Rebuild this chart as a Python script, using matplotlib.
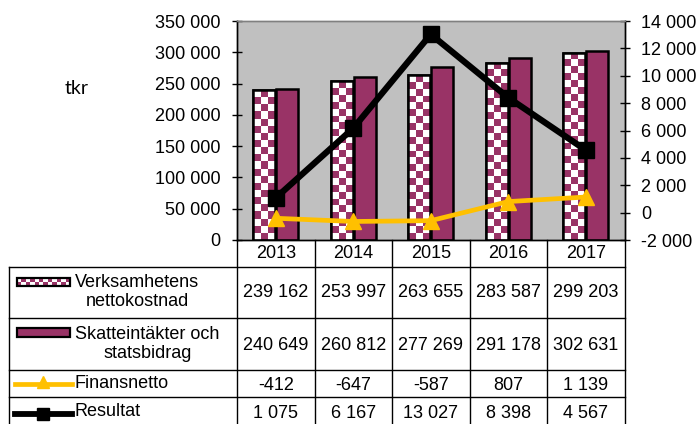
import numpy as np
import matplotlib
matplotlib.use("Agg")
import matplotlib.pyplot as plt
from matplotlib.patches import Rectangle
from matplotlib.lines import Line2D
from matplotlib.ticker import FuncFormatter, MultipleLocator

# ---------------- data ----------------
years = ["2013", "2014", "2015", "2016", "2017"]
nettokostnad = [239162, 253997, 263655, 283587, 299203]
skatteintakter = [240649, 260812, 277269, 291178, 302631]
finansnetto = [-412, -647, -587, 807, 1139]
resultat = [1075, 6167, 13027, 8398, 4567]
series_labels = ["Verksamhetens\nnettokostnad", "Skatteintäkter och\nstatsbidrag",
                 "Finansnetto", "Resultat"]

PURPLE = "#993366"
GOLD = "#FFC000"
GRAY = "#C0C0C0"
FONT = "Liberation Sans"
FS = 13

plt.rcParams['font.family'] = [FONT, 'DejaVu Sans']

W_PX, H_PX = 698, 424
fig = plt.figure(figsize=(W_PX / 100, H_PX / 100), dpi=100)

# plot area in pixels
pl, pr, pt, pb = 237, 624.5, 21, 240
ax = fig.add_axes([pl / W_PX, 1 - pb / H_PX, (pr - pl) / W_PX, (pb - pt) / H_PX])
ax.set_facecolor(GRAY)
ax2 = ax.twinx()

def sp(v, _=None):
    return f"{int(v):,}".replace(",", " ")

n = len(years)
x = np.arange(n)
bw = 0.285
off = 0.148

ax.set_xlim(-0.5, n - 0.5)
ax.set_ylim(0, 350000)
ax2.set_ylim(-2000, 14000)
ax.yaxis.set_major_locator(MultipleLocator(50000))
ax2.yaxis.set_major_locator(MultipleLocator(2000))
ax.yaxis.set_major_formatter(FuncFormatter(sp))
ax2.yaxis.set_major_formatter(FuncFormatter(sp))
ax.set_xticks([])
for a in (ax, ax2):
    a.tick_params(axis='y', direction='inout', length=7, width=1, labelsize=FS, pad=8.5)
    for s in a.spines.values():
        s.set_linewidth(1.0)
    a.spines['top'].set_color('#808080')

# bars
bars1 = ax.bar(x - off, nettokostnad, bw, facecolor='white', edgecolor='black',
               linewidth=1.8, zorder=2)
bars2 = ax.bar(x + off, skatteintakter, bw, facecolor=PURPLE, edgecolor='black',
               linewidth=1.8, zorder=2)

# checker pattern for bars1
cell_px = 7.0
ppx = (pr - pl) / n          # pixels per category
ppy = (pb - pt) / 350000.0   # pixels per unit
for b in bars1:
    x0, y0 = b.get_x(), b.get_y()
    w, h = b.get_width(), b.get_height()
    ncol = max(1, int(round(w * ppx / cell_px)))
    nrow = max(1, int(round(h * ppy / cell_px)))
    pat = (np.add.outer(np.arange(nrow), np.arange(ncol)) % 2).astype(float)
    img = np.ones((nrow, ncol, 3))
    pr_rgb = np.array(matplotlib.colors.to_rgb(PURPLE))
    img[pat == 1] = pr_rgb
    im = ax.imshow(img, extent=(x0, x0 + w, y0, y0 + h), aspect='auto',
                   interpolation='nearest', zorder=2.1, origin='upper')
    im.set_clip_path(b)
    border = Rectangle((x0, y0), w, h, facecolor='none', edgecolor='black',
                       linewidth=1.8, zorder=2.2)
    ax.add_patch(border)
ax.set_xlim(-0.5, n - 0.5)
ax.set_ylim(0, 350000)

# lines
ax2.plot(x, finansnetto, color=GOLD, lw=3.4, marker='^', markersize=11,
         markerfacecolor=GOLD, markeredgecolor=GOLD, zorder=3)
ax2.plot(x, resultat, color='black', lw=4.5, marker='s', markersize=11.5,
         markerfacecolor='black', markeredgecolor='black', zorder=4)

# y label
fig.text(77 / W_PX, 1 - 88 / H_PX, "tkr", family=['Lato', 'DejaVu Sans'],
         fontsize=14, ha='center', va='center')

# ---------------- data table ----------------
tab = fig.add_axes([0, 0, 1, 1])
tab.set_xlim(0, W_PX)
tab.set_ylim(H_PX, 0)
tab.axis('off')
tab.patch.set_alpha(0)

cw = (pr - pl) / n
col_edges = [pl + i * cw for i in range(n + 1)]
row_edges = [267, 318, 370, 397, 432]
tl = 9
lk = dict(color='black', lw=1.0)
# vertical lines
for xe in col_edges:
    tab.plot([xe, xe], [pb, H_PX + 5], **lk)
tab.plot([tl, tl], [row_edges[0], H_PX + 5], **lk)
for ye in row_edges:
    tab.plot([tl, col_edges[-1]], [ye, ye], **lk)

# year labels
for i, yl in enumerate(years):
    tab.text((col_edges[i] + col_edges[i + 1]) / 2, 254, yl, ha='center',
             va='center', fontsize=FS)

rows = [nettokostnad, skatteintakter, finansnetto, resultat]
row_text_y = [292.5, 345, 385, 414]
for r, vals in enumerate(rows):
    for i, v in enumerate(vals):
        tab.text((col_edges[i] + col_edges[i + 1]) / 2, row_text_y[r], sp(v),
                 ha='center', va='center', fontsize=FS)

# legend keys
label_y = [292, 344, 384, 412]
for r, lab in enumerate(series_labels):
    tab.text(75, label_y[r], lab, ha='left', va='center', fontsize=FS,
             multialignment='center', linespacing=1.12)

# checker key
kx0, kx1 = 17, 70
ky0, ky1 = 278, 286
nk = 12
ck = np.ones((2, nk, 3))
pat = (np.add.outer(np.arange(2), np.arange(nk)) % 2)
ck[pat == 1] = matplotlib.colors.to_rgb(PURPLE)
tab.imshow(ck, extent=(kx0, kx1, ky1, ky0), aspect='auto', interpolation='nearest')
tab.add_patch(Rectangle((kx0, ky0), kx1 - kx0, ky1 - ky0, facecolor='none',
                        edgecolor='black', lw=1.6))
tab.add_patch(Rectangle((17, 328), 53, 9, facecolor=PURPLE, edgecolor='black', lw=1.6))
tab.add_line(Line2D([15, 72], [384, 384], color=GOLD, lw=3.4))
tab.add_line(Line2D([43], [382], color=GOLD, marker='^', markersize=9))
tab.add_line(Line2D([15, 72], [414, 414], color='black', lw=4.2))
tab.add_line(Line2D([43], [414], color='black', marker='s', markersize=9))
tab.set_xlim(0, W_PX)
tab.set_ylim(H_PX, 0)

fig.savefig("out.png", dpi=100)
